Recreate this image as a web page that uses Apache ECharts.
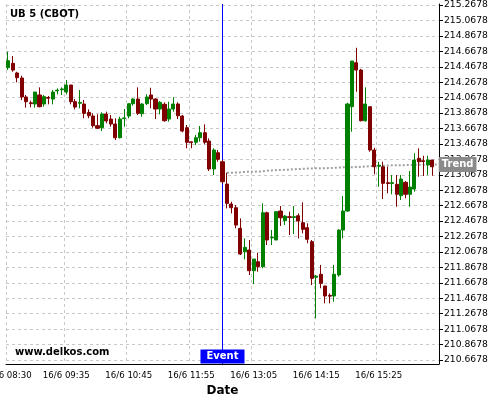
<!DOCTYPE html>
<html><head><meta charset="utf-8">
<script src="https://cdn.jsdelivr.net/npm/echarts@6/dist/echarts.min.js"></script>
<style>html,body{margin:0;padding:0;background:#fff}#c{width:500px;height:400px}</style>
</head><body><div id="c"></div>
<script>
const categories = [
'16/6 08:30','16/6 08:35','16/6 08:40','16/6 08:45','16/6 08:50','16/6 08:55',
'16/6 09:00','16/6 09:05','16/6 09:10','16/6 09:15','16/6 09:20','16/6 09:25','16/6 09:30','16/6 09:35','16/6 09:40','16/6 09:45','16/6 09:50','16/6 09:55',
'16/6 10:00','16/6 10:05','16/6 10:10','16/6 10:15','16/6 10:20','16/6 10:25','16/6 10:30','16/6 10:35','16/6 10:40','16/6 10:45','16/6 10:50','16/6 10:55',
'16/6 11:00','16/6 11:05','16/6 11:10','16/6 11:15','16/6 11:20','16/6 11:25','16/6 11:30','16/6 11:35','16/6 11:40','16/6 11:45','16/6 11:50','16/6 11:55',
'16/6 12:00','16/6 12:05','16/6 12:10','16/6 12:15','16/6 12:20','16/6 12:25','16/6 12:30','16/6 12:35','16/6 12:40','16/6 12:45','16/6 12:50','16/6 12:55',
'16/6 13:00','16/6 13:05','16/6 13:10','16/6 13:15','16/6 13:20','16/6 13:25','16/6 13:30','16/6 13:35','16/6 13:40','16/6 13:45','16/6 13:50','16/6 13:55',
'16/6 14:00','16/6 14:05','16/6 14:10','16/6 14:15','16/6 14:20','16/6 14:25','16/6 14:30','16/6 14:35','16/6 14:40','16/6 14:45','16/6 14:50','16/6 14:55',
'16/6 15:00','16/6 15:05','16/6 15:10','16/6 15:15','16/6 15:20','16/6 15:25','16/6 15:30','16/6 15:35','16/6 15:40','16/6 15:45','16/6 15:50','16/6 15:55',
'16/6 16:00','16/6 16:05','16/6 16:10','16/6 16:15','16/6 16:20','16/6 16:25','16/6 16:30'];

const open = [214.455,214.512,214.387,214.322,214.076,214.000,213.985,214.102,213.985,214.070,
214.049,214.155,214.170,214.140,214.231,214.015,213.995,213.985,213.877,213.829,
213.704,213.678,213.855,213.790,213.726,213.548,213.795,213.829,213.989,214.049,
213.859,213.989,214.102,214.049,213.920,213.981,213.790,213.920,213.985,213.829,
213.678,213.495,213.489,213.548,213.613,213.505,213.143,213.354,213.237,212.948,
212.689,212.641,212.374,212.071,212.093,211.825,211.941,211.877,212.576,212.250,
212.223,212.598,212.473,212.525,212.515,212.537,212.447,212.382,212.201,211.740,
211.778,211.627,211.505,211.497,211.769,212.352,212.598,213.950,214.520,214.425,
213.768,213.950,213.389,213.180,213.172,212.965,212.955,212.944,212.797,212.970,
212.815,212.883,213.281,213.250,213.195,213.259];
const close = [214.546,214.425,214.326,214.076,214.015,213.990,214.140,213.950,214.080,214.060,
214.140,214.165,214.180,214.231,214.015,213.946,214.005,213.864,213.833,213.704,
213.670,213.855,213.765,213.726,213.548,213.790,213.805,213.989,214.049,213.864,
213.985,214.076,214.049,213.920,214.007,213.768,213.920,213.985,213.833,213.635,
213.489,213.485,213.548,213.613,213.489,213.143,213.389,213.268,212.978,212.698,
212.641,212.416,212.041,212.128,211.825,211.976,211.877,212.576,212.223,212.260,
212.590,212.511,212.533,212.515,212.525,212.469,212.361,212.232,211.726,211.755,
211.661,211.497,211.495,211.778,212.352,212.598,213.985,214.542,214.425,213.768,
213.985,213.389,213.172,213.190,212.957,212.955,212.965,212.815,213.013,212.815,
212.909,213.259,213.237,213.240,213.259,213.172];
const low = [214.425,214.403,214.266,214.037,213.937,213.942,213.937,213.942,213.950,213.981,
213.981,214.110,214.102,214.110,213.981,213.916,213.929,213.800,213.800,213.678,
213.661,213.635,213.735,213.691,213.518,213.540,213.691,213.800,213.963,213.842,
213.820,213.972,213.929,213.790,213.851,213.756,213.756,213.885,213.790,213.618,
213.411,213.411,213.454,213.497,213.463,213.117,213.065,213.237,212.957,212.633,
212.568,212.374,212.028,211.972,211.769,211.652,211.812,211.856,212.158,212.158,
212.223,212.404,212.416,212.287,212.300,212.244,212.309,212.180,211.639,211.208,
211.597,211.402,211.402,211.423,211.747,212.244,212.590,213.626,214.144,213.760,
213.756,213.367,213.074,212.913,212.754,212.828,212.815,212.654,212.741,212.763,
212.654,212.849,213.043,213.052,213.065,213.056];
const high = [214.663,214.607,214.403,214.352,214.102,214.028,214.140,214.201,214.102,214.089,
214.166,214.188,214.201,214.296,214.231,214.049,214.166,214.037,213.916,213.864,
213.851,213.877,213.886,213.842,213.800,213.820,213.920,213.995,214.058,214.201,
213.995,214.111,214.196,214.060,214.024,214.007,214.015,214.072,214.007,213.842,
213.713,213.497,213.583,213.700,213.722,213.540,213.411,213.389,213.259,213.095,
212.719,212.676,212.503,212.244,212.223,211.976,212.058,212.698,212.590,212.352,
212.590,212.663,212.546,212.590,212.663,212.568,212.711,212.439,212.223,211.769,
211.899,211.627,211.532,211.899,212.361,212.793,214.000,214.542,214.714,214.440,
214.201,213.950,213.418,213.237,213.237,213.172,213.065,213.065,213.065,212.987,
213.117,213.346,213.411,213.315,213.315,213.260];

// trend values from index 49 to 96
const trendStart = 49;
const trendValues = [213.095,213.095,213.097,213.100,213.105,213.108,213.108,213.110,213.112,213.120,
213.125,213.128,213.130,213.132,213.135,213.140,213.143,213.145,213.148,213.150,
213.152,213.152,213.153,213.155,213.158,213.162,213.165,213.165,213.166,213.168,
213.170,213.175,213.180,213.183,213.185,213.186,213.188,213.190,213.190,213.192,
213.193,213.195,213.196,213.197,213.198,213.199,213.200,213.201];

const yTicks = [210.6678,210.8678,211.0678,211.2678,211.4678,211.6678,211.8678,212.0678,212.2678,212.4678,
212.6678,212.8678,213.0678,213.2678,213.4678,213.6678,213.8678,214.0678,214.2678,214.4678,
214.6678,214.8678,215.0678,215.2678];
const labelIdx = [0,13,27,41,55,69,83];
const tickIdx = [0,6,13,20,27,34,41,48,55,62,69,76,83,90];
const eventIdx = 48;

const candleData = open.map((o, i) => [o, close[i], low[i], high[i]]);
const trendData = categories.map((c, i) => (i >= trendStart && i - trendStart < trendValues.length) ? trendValues[i - trendStart] : '-');

const FONT = 'DejaVu Sans';
const chart = echarts.init(document.getElementById('c'), null, {renderer: 'canvas'});
chart.setOption({
  animation: false,
  backgroundColor: '#fff',
  title: {text: 'UB 5 (CBOT)', left: 10, top: 9, padding: 0,
    textStyle: {fontFamily: FONT, fontSize: 10, fontWeight: 'bold', color: '#000'}},
  graphic: [{type: 'text', left: 15, top: 347, z: 100,
    style: {text: 'www.delkos.com', font: 'bold 10px "DejaVu Sans"', fill: '#000'}}],
  grid: {left: 6, right: 61, top: 4, bottom: 36, containLabel: false, outerBoundsMode: 'none'},
  xAxis: {
    type: 'category', data: categories, boundaryGap: true,
    name: 'Date', nameLocation: 'middle', nameGap: 17,
    nameTextStyle: {fontFamily: FONT, fontSize: 12, fontWeight: 'bold', color: '#000'},
    axisLine: {lineStyle: {color: '#000', width: 1}},
    axisTick: {alignWithLabel: true, length: 4, lineStyle: {color: '#000'}, interval: (i) => tickIdx.includes(i)},
    axisLabel: {interval: (i) => labelIdx.includes(i), fontFamily: FONT, fontSize: 8.6, color: '#000', margin: 7, hideOverlap: false},
    splitLine: {show: true, interval: (i) => labelIdx.includes(i), lineStyle: {color: '#c8c8c8', type: [3, 3], width: 1}}
  },
  yAxis: {
    type: 'value', position: 'right', min: 210.616, max: 215.281, scale: true,
    axisLine: {show: true, lineStyle: {color: '#000', width: 1}},
    axisTick: {show: true, length: 4, lineStyle: {color: '#000'}, customValues: yTicks},
    axisLabel: {customValues: yTicks, fontFamily: FONT, fontSize: 9.2, color: '#000', margin: 5,
      formatter: (v) => v.toFixed(4)},
    splitLine: {show: true, lineStyle: {color: '#c8c8c8', type: [3, 3], width: 1}}
  },
  series: [
    {
      type: 'line', data: trendData, showSymbol: false, z: 1, silent: true,
      lineStyle: {color: '#a0a0a0', width: 2, type: [2, 2]},
      endLabel: {show: true, formatter: 'Trend', distance: 2, backgroundColor: '#8a8a8a', color: '#fff',
        fontFamily: FONT, fontSize: 10, fontWeight: 'bold', padding: [2, 3, 1, 3], lineHeight: 12},
      markLine: {
        silent: true, z: 1, symbol: ['none', 'none'], animation: false,
        lineStyle: {color: '#0000ff', width: 1, type: 'solid'},
        label: {show: false},
        data: [{xAxis: eventIdx}]
      }
    },
    {
      type: 'candlestick', data: candleData, barWidth: 3.6, z: 3,
      itemStyle: {color: '#008000', color0: '#800000', borderColor: '#008000', borderColor0: '#800000', borderWidth: 1},
      markPoint: {
        silent: true, symbol: 'rect', symbolSize: 1, itemStyle: {color: 'rgba(0,0,0,0)'},
        label: {show: true, position: 'top', distance: 0, formatter: 'Event', backgroundColor: '#0000ff', color: '#fff',
          fontFamily: FONT, fontSize: 10, fontWeight: 'bold', padding: [1, 6, 1, 6], lineHeight: 12},
        data: [{coord: [categories[eventIdx], 210.616]}]
      }
    }
  ]
});
</script></body></html>
